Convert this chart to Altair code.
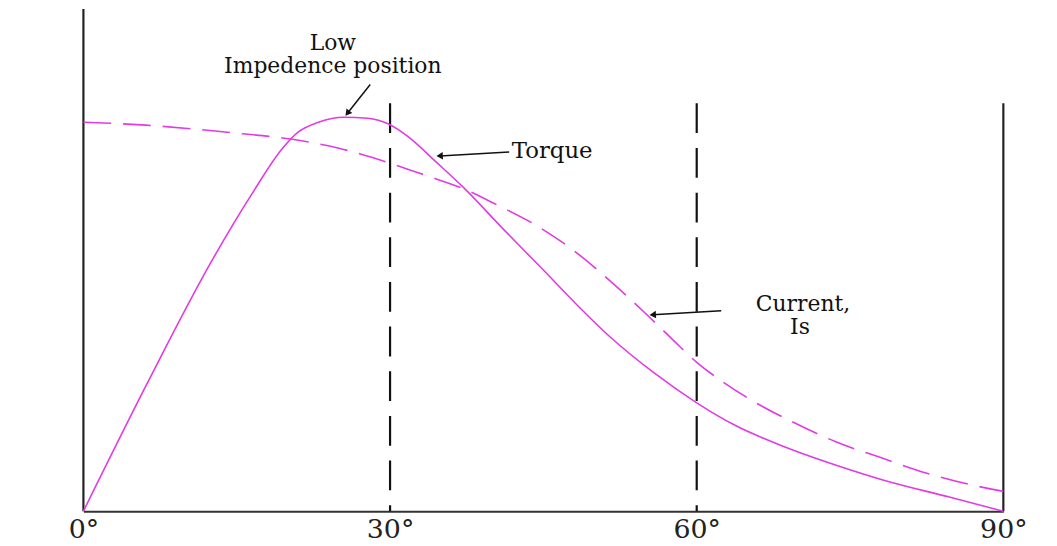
import altair as alt
import pandas as pd

# ---- data (angle in degrees, per-unit values) ----
torque_deg = [0, 6.2, 12.5, 16.5, 19.5, 21.0, 23.0, 25.5, 27.8, 29.9, 31.7, 34.6, 37.2,
              41.1, 45.0, 48.2, 51.4, 55.9, 60.0, 63.7, 68.5, 73.5, 78.3, 84.8, 90]
torque_val = [0, 0.32, 0.628, 0.8, 0.915, 0.955, 0.98, 0.9925, 0.99, 0.975, 0.945, 0.8775, 0.815,
              0.71, 0.6075, 0.522, 0.442, 0.347, 0.273, 0.217, 0.163, 0.117, 0.078, 0.035, 0]

current_deg = [0, 6.1, 14.9, 20.3, 24.9, 29.9, 33.6, 37.2, 40.2, 44.5, 48.2, 52.1, 55.0, 57.5,
               60.0, 62.6, 66.0, 69.6, 73.6, 78.0, 82.6, 88.0, 90]
current_val = [0.98, 0.9725, 0.9525, 0.9375, 0.915, 0.8775, 0.845, 0.812, 0.775, 0.717, 0.652, 0.567,
               0.498, 0.436, 0.375, 0.325, 0.27, 0.222, 0.175, 0.135, 0.095, 0.06, 0.05]

tick_deg = [0, 30, 60, 90]

frame_deg = [0, 90]
frame_top = [1.265, 1.0275]
marker_deg = [30, 60]
marker_top = [1.0275, 1.0275]

label_text = ["Low", "Impedence position", "Current,", "Is"]
label_deg = [24.4, 24.4, 70.4, 70.1]
label_val = [1.18, 1.122, 0.522, 0.465]

side_text = ["Torque"]
side_deg = [41.9]
side_val = [0.9075]

arrow_from_deg = [28.06, 41.65, 62.4]
arrow_from_val = [1.075, 0.905, 0.505]
arrow_to_deg = [25.83, 34.85, 55.7]
arrow_to_val = [1.0025, 0.895, 0.495]
arrow_angle = [218, 267, 267]

# ---- tables ----
curves = pd.concat([
    pd.DataFrame({"deg": torque_deg, "val": torque_val, "series": "Torque"}),
    pd.DataFrame({"deg": current_deg, "val": current_val, "series": "Current"}),
])
frame = pd.DataFrame({"deg": frame_deg, "top": frame_top, "base": 0.0})
markers = pd.DataFrame({"deg": marker_deg, "top": marker_top, "base": 0.0})
labels = pd.DataFrame({"text": label_text, "deg": label_deg, "val": label_val})
side = pd.DataFrame({"text": side_text, "deg": side_deg, "val": side_val})
arrows = pd.DataFrame({"x": arrow_from_deg, "y": arrow_from_val,
                       "x2": arrow_to_deg, "y2": arrow_to_val, "angle": arrow_angle})

XS = alt.Scale(domain=[0, 90], nice=False, zero=False)
YS = alt.Scale(domain=[0, 1.2625], nice=False, zero=True)
MAG = "#e23be2"
FONT = "DejaVu Serif"

xax = alt.Axis(values=tick_deg, labelExpr="datum.value + '°'", title=None, grid=False,
               ticks=False, domain=True, domainColor="#333333", domainWidth=2,
               labelFont=FONT, labelFontSize=27, labelColor="#222222", labelPadding=6,
               labelFlush=False)

torque = alt.Chart(curves).transform_filter(alt.datum.series == "Torque").mark_line(
    color=MAG, strokeWidth=1.6, interpolate="monotone", clip=False
).encode(x=alt.X("deg:Q", scale=XS, axis=xax), y=alt.Y("val:Q", scale=YS, axis=None))

current = alt.Chart(curves).transform_filter(alt.datum.series == "Current").mark_line(
    color=MAG, strokeWidth=1.6, strokeDash=[28, 12], interpolate="monotone", clip=False
).encode(x=alt.X("deg:Q", scale=XS), y=alt.Y("val:Q", scale=YS, axis=None))

frame_rules = alt.Chart(frame).mark_rule(color="#222222", strokeWidth=2.2, clip=False).encode(
    x=alt.X("deg:Q", scale=XS), y=alt.Y("base:Q", scale=YS, axis=None), y2="top:Q")

marker_rules = alt.Chart(markers).mark_rule(color="#111111", strokeWidth=2.2,
                                            strokeDash=[30, 15], clip=False).encode(
    x=alt.X("deg:Q", scale=XS), y=alt.Y("top:Q", scale=YS, axis=None), y2="base:Q")

texts = alt.Chart(labels).mark_text(font=FONT, fontSize=22, color="#111111",
                                    align="center", baseline="middle").encode(
    x=alt.X("deg:Q", scale=XS), y=alt.Y("val:Q", scale=YS, axis=None), text="text:N")

side_texts = alt.Chart(side).mark_text(font=FONT, fontSize=23, color="#111111",
                                       align="left", baseline="middle").encode(
    x=alt.X("deg:Q", scale=XS), y=alt.Y("val:Q", scale=YS, axis=None), text="text:N")

arrow_lines = alt.Chart(arrows).mark_rule(color="#111111", strokeWidth=1.5).encode(
    x=alt.X("x:Q", scale=XS), y=alt.Y("y:Q", scale=YS, axis=None), x2="x2:Q", y2="y2:Q")

arrow_heads = alt.Chart(arrows).mark_point(shape="triangle-up", filled=True, color="#111111",
                                           size=55, opacity=1).encode(
    x=alt.X("x2:Q", scale=XS), y=alt.Y("y2:Q", scale=YS, axis=None),
    angle=alt.Angle("angle:Q", scale=None))

chart = alt.layer(marker_rules, frame_rules, current, torque, arrow_lines, arrow_heads,
                  texts, side_texts).properties(
    width=927, height=505,
    autosize=alt.AutoSizeParams(type="none"),
    padding={"left": 76, "top": 0, "right": 46, "bottom": 33},
    background="white",
).configure_view(stroke=None)

chart.save("out.html", embed_options={"renderer": "svg", "actions": False})
